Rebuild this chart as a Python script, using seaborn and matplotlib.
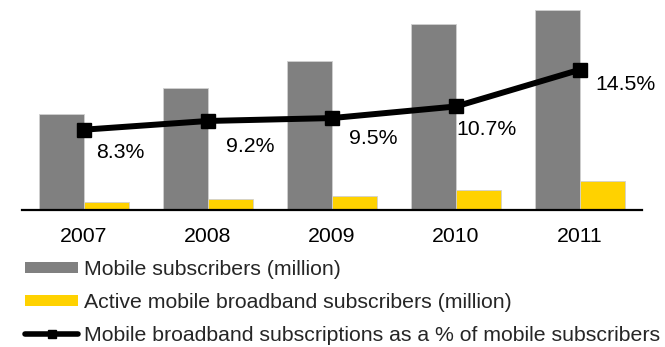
import numpy as np
import pandas as pd
import matplotlib
matplotlib.use("Agg")
import matplotlib.pyplot as plt
from matplotlib.patches import Patch
from matplotlib.lines import Line2D
import seaborn as sns

# ---- data ----
years = ["2007", "2008", "2009", "2010", "2011"]
mobile_subs = [96, 122, 149, 186, 200]          # Mobile subscribers (million)
broadband_subs = [8, 11, 14, 20, 29]            # Active mobile broadband subscribers (million)
pct_share = [8.3, 9.2, 9.5, 10.7, 14.5]         # % of mobile subscribers
pct_labels = ["8.3%", "9.2%", "9.5%", "10.7%", "14.5%"]
series_names = ["Mobile subscribers (million)",
                "Active mobile broadband subscribers (million)"]
line_name = "Mobile broadband subscriptions as a % of mobile subscribers"

# ---- style ----
sns.set_style("white")
plt.rcParams["font.family"] = ["Liberation Sans", "DejaVu Sans"]
FS = 15.3
GREY = "#808080"
YELLOW = "#FFD200"

df = pd.DataFrame({
    "year": years * 2,
    "series": [series_names[0]] * len(years) + [series_names[1]] * len(years),
    "value": mobile_subs + broadband_subs,
})

fig = plt.figure(figsize=(6.65, 3.47), dpi=100)
ax = fig.add_axes([22 / 665, (347 - 210) / 347, 620 / 665, 210 / 347])

sns.barplot(data=df, x="year", y="value", hue="series",
            palette=[GREY, YELLOW], width=0.726, gap=0, saturation=1,
            legend=False, ax=ax, edgecolor="#d0d0d0", linewidth=0.6)
ax.set_ylim(0, 210)
ax.set_xlim(-0.5, len(years) - 0.5)
ax.set_xlabel("")
ax.set_ylabel("")
ax.set_yticks([])
for s in ["left", "right", "top"]:
    ax.spines[s].set_visible(False)
ax.spines["bottom"].set_color("black")
ax.spines["bottom"].set_linewidth(1.6)
ax.tick_params(axis="x", which="major", length=0, pad=12.5, labelsize=FS, colors="black")
ax.set_xticks(np.arange(len(years) + 1) - 0.5, minor=True)
ax.tick_params(axis="x", which="minor", length=4.5, width=1.3, direction="out", color="black")

ax2 = ax.twinx()
pos = np.arange(len(years))
ax2.plot(pos, pct_share, color="black", linewidth=4.3, marker="s",
         markersize=9.4, markerfacecolor="black", markeredgecolor="black",
         solid_joinstyle="miter")
ax2.set_ylim(0, 21.7)
ax2.set_yticks([])
for s in ["left", "right", "top", "bottom"]:
    ax2.spines[s].set_visible(False)

# label offsets in pixels (dx from marker center to text left, dy to baseline)
offsets = [(12, -28), (18, -31), (17, -26), (0, -29), (15, -20)]
for x, y, lab, (dx, dy) in zip(pos, pct_share, pct_labels, offsets):
    ax2.annotate(lab, (x, y), xytext=(dx, dy), textcoords="offset pixels",
                 ha="left", va="baseline", fontsize=FS, color="black")

handles = [
    Patch(facecolor=GREY, edgecolor="none", label=series_names[0]),
    Patch(facecolor=YELLOW, edgecolor="none", label=series_names[1]),
    Line2D([0], [0], color="black", linewidth=4, marker="s", markersize=6,
           label=line_name),
]
fig.legend(handles=handles, loc="upper left", bbox_to_anchor=(25 / 665, 1 - 260 / 347),
           frameon=False, fontsize=FS, handlelength=2.5, handleheight=0.47,
           handletextpad=0.3, labelspacing=0.66, borderpad=0, borderaxespad=0)

fig.savefig("out.png", dpi=100)
